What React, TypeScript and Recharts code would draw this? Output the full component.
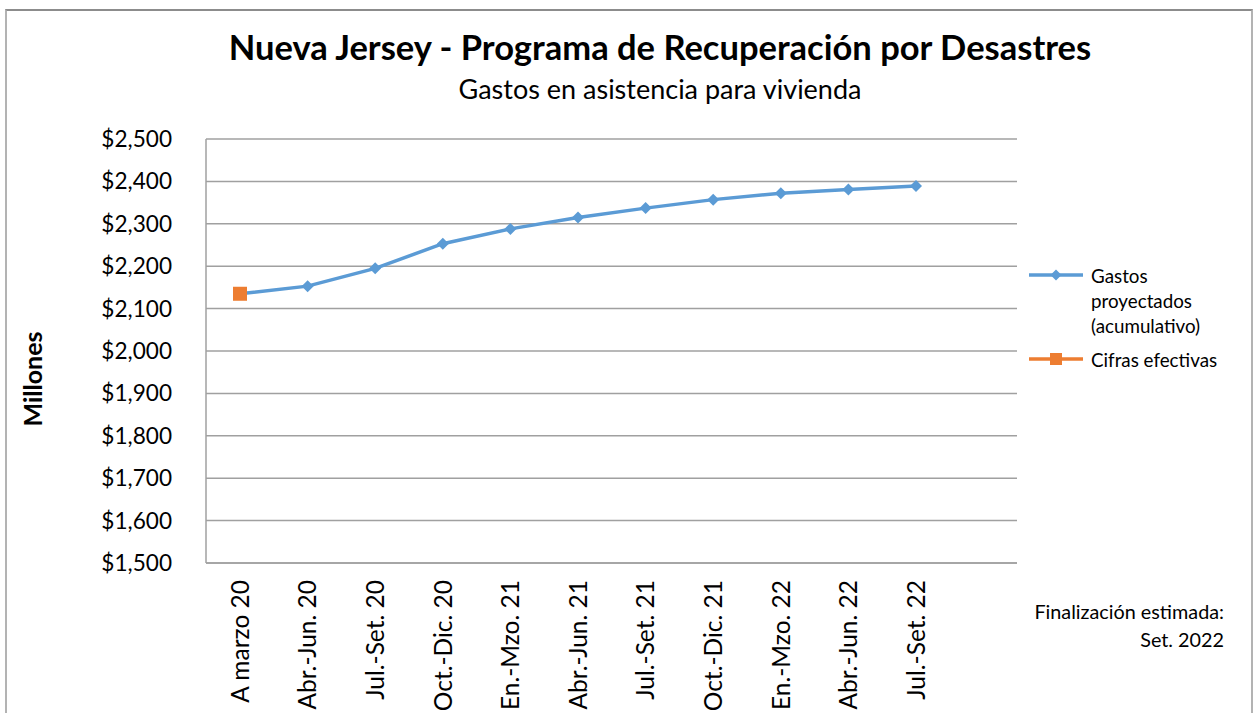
import React from 'react';
import { LineChart, Line, XAxis, YAxis, CartesianGrid } from 'recharts';

const categories = [
  'A marzo 20',
  'Abr.-Jun. 20',
  'Jul.-Set. 20',
  'Oct.-Dic. 20',
  'En.-Mzo. 21',
  'Abr.-Jun. 21',
  'Jul.-Set. 21',
  'Oct.-Dic. 21',
  'En.-Mzo. 22',
  'Abr.-Jun. 22',
  'Jul.-Set. 22',
];
const gastosProyectados = [2135, 2153, 2195, 2253, 2288, 2315, 2337, 2357, 2372, 2381, 2389];
const cifrasEfectivas: (number | null)[] = [2135, null, null, null, null, null, null, null, null, null, null];
const yTicks = [1500, 1600, 1700, 1800, 1900, 2000, 2100, 2200, 2300, 2400, 2500];

const data = categories.map((name, i) => ({
  name,
  gastos: gastosProyectados[i],
  cifras: cifrasEfectivas[i],
}));

const FONT = "Lato, 'Open Sans', sans-serif";
const BLUE = '#5B9BD5';
const ORANGE = '#ED7D31';
const GRID = '#a0a0a0';

function RotatedTick({ x, y, payload }: any) {
  return (
    <text
      x={x}
      y={y}
      transform={`rotate(-90, ${x}, ${y})`}
      textAnchor="end"
      dy="0.36em"
      fontSize={24.5}
      fontFamily={FONT}
      fill="#000"
    >
      {payload.value}
    </text>
  );
}

function Diamond({ cx, cy }: any) {
  if (cx == null || cy == null) return null;
  const r = 6;
  return <path d={`M${cx},${cy - r}L${cx + r},${cy}L${cx},${cy + r}L${cx - r},${cy}Z`} fill={BLUE} />;
}

function Square({ cx, cy }: any) {
  if (cx == null || cy == null) return null;
  const s = 14;
  return <rect x={cx - s / 2} y={cy - s / 2} width={s} height={s} fill={ORANGE} />;
}

function MillonesLabel() {
  const x = 33;
  const y = 379;
  return (
    <text
      x={x}
      y={y}
      transform={`rotate(-90, ${x}, ${y})`}
      textAnchor="middle"
      dy="0.36em"
      fontSize={25}
      fontWeight="bold"
      fontFamily={FONT}
      fill="#000"
    >
      Millones
    </text>
  );
}

function ChartLegend() {
  const textStyle: React.CSSProperties = { fontSize: 18.8, lineHeight: '25px', color: '#000' };
  return (
    <div style={{ fontFamily: FONT, width: 220 }}>
      <div style={{ display: 'flex', alignItems: 'flex-start' }}>
        <svg width={58} height={25} style={{ flex: 'none' }}>
          <line x1={1} y1={12} x2={55} y2={12} stroke={BLUE} strokeWidth={3.5} />
          <path d="M28,6.5L33.5,12L28,17.5L22.5,12Z" fill={BLUE} />
        </svg>
        <div style={{ ...textStyle, marginLeft: 5 }}>
          Gastos
          <br />
          proyectados
          <br />
          (acumulativo)
        </div>
      </div>
      <div style={{ display: 'flex', alignItems: 'flex-start', marginTop: 9 }}>
        <svg width={58} height={25} style={{ flex: 'none' }}>
          <line x1={1} y1={12} x2={55} y2={12} stroke={ORANGE} strokeWidth={3.5} />
          <rect x={22} y={6} width={12} height={12} fill={ORANGE} />
        </svg>
        <div style={{ ...textStyle, marginLeft: 5 }}>Cifras efectivas</div>
      </div>
    </div>
  );
}

export default function App() {
  return (
    <div
      style={{
        position: 'absolute',
        left: 0,
        top: 0,
        width: 1255,
        height: 713,
        overflow: 'hidden',
        background: '#fff',
        fontFamily: FONT,
      }}
    >
      <div
        style={{
          position: 'absolute',
          left: 5,
          top: 9,
          width: 1244,
          height: 720,
          borderTop: '2px solid #8c8c8c',
          borderLeft: '2px solid #b3b3b3',
          borderRight: '2px solid #b3b3b3',
        }}
      />
      <div
        style={{
          position: 'absolute',
          left: 0,
          top: 26,
          width: 1320,
          textAlign: 'center',
          fontSize: 34.5,
          fontWeight: 'bold',
          color: '#000',
          whiteSpace: 'nowrap',
        }}
      >
        Nueva Jersey - Programa de Recuperación por Desastres
      </div>
      <div
        style={{
          position: 'absolute',
          left: 0,
          top: 72,
          width: 1320,
          textAlign: 'center',
          fontSize: 27,
          color: '#000',
          whiteSpace: 'nowrap',
        }}
      >
        Gastos en asistencia para vivienda
      </div>
      <div
        style={{
          position: 'absolute',
          right: 1255 - 1224,
          top: 597,
          textAlign: 'right',
          fontSize: 19.8,
          lineHeight: '28px',
          color: '#000',
          whiteSpace: 'nowrap',
        }}
      >
        Finalización estimada:
        <br />
        Set. 2022
      </div>
      <div style={{ position: 'absolute', left: 1028, top: 263 }}>
        <ChartLegend />
      </div>
      <div style={{ position: 'absolute', left: 0, top: 0 }}>
        <LineChart
          width={1255}
          height={713}
          data={data}
          margin={{ top: 139, right: 238, bottom: 0, left: 0 }}
        >
          <CartesianGrid vertical={false} stroke={GRID} strokeWidth={1.5} />
          <XAxis
            dataKey="name"
            height={150}
            padding={{ left: 34, right: 101 }}
            interval={0}
            tick={<RotatedTick />}
            tickLine={false}
            tickSize={0}
            tickMargin={17}
            axisLine={{ stroke: GRID, strokeWidth: 1.5 }}
          />
          <YAxis
            width={206}
            domain={[1500, 2500]}
            ticks={yTicks}
            interval={0}
            tickFormatter={(v: number) => `$${v.toLocaleString('en-US')}`}
            tick={{ fontSize: 22.6, fontFamily: FONT, fill: '#000' }}
            tickLine={false}
            tickSize={0}
            tickMargin={34}
            axisLine={{ stroke: GRID, strokeWidth: 1.5 }}
            label={<MillonesLabel />}
          />
          <Line
            dataKey="gastos"
            stroke={BLUE}
            strokeWidth={3.5}
            dot={<Diamond />}
            activeDot={false}
            isAnimationActive={false}
          />
          <Line
            dataKey="cifras"
            stroke={ORANGE}
            strokeWidth={3.5}
            dot={<Square />}
            activeDot={false}
            isAnimationActive={false}
          />
        </LineChart>
      </div>
    </div>
  );
}
